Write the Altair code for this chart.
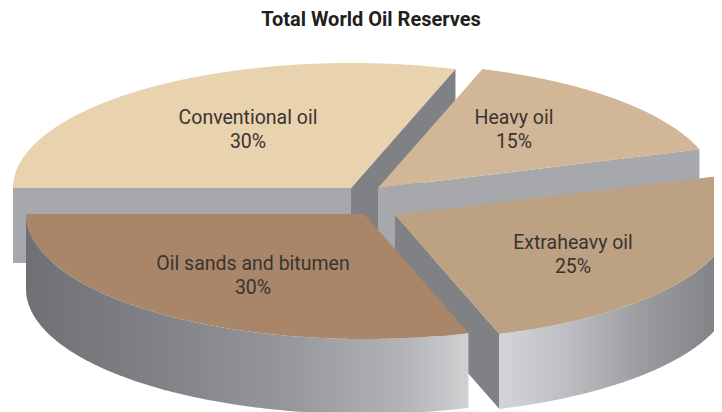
import math
import altair as alt
import pandas as pd

# --- chart values ---
categories = ["Conventional oil", "Heavy oil", "Extraheavy oil", "Oil sands and bitumen"]
shares = [30, 15, 25, 30]
title_text = "Total World Oil Reserves"

# --- styling / geometry (separate from the values) ---
top_colors = ["#e9d2ae", "#d1b797", "#bca283", "#a98669"]
SIDE = "#a6a8ab"
CUT = "#7f8184"
centres = [(351, 188), (378, 188), (395, 215), (364, 214)]
label_pos = [(248, 118), (514, 118), (573, 243), (253, 264)]
RX, RY, DEPTH = 338, 125, 75
START = 180.0

# slice boundaries from the shares, clockwise from the left
bounds = [START]
for s in shares:
    bounds.append(bounds[-1] - s * 3.6)


def pt(i, deg):
    cx, cy = centres[i]
    r = math.radians(deg)
    return cx + RX * math.cos(r), cy - RY * math.sin(r)


def arc(i, a0, a1, n=200):
    return [pt(i, a0 + (a1 - a0) * k / n) for k in range(n + 1)]


def rows_from_polygon(poly):
    xs = sorted({round(p[0], 3) for p in poly})
    rows = []
    m = len(poly)
    for x in xs:
        ys = []
        for k in range(m):
            (x0, y0), (x1, y1) = poly[k], poly[(k + 1) % m]
            lo, hi = min(x0, x1), max(x0, x1)
            if lo - 0.002 <= x <= hi + 0.002:
                if abs(x1 - x0) < 1e-6:
                    ys += [y0, y1]
                else:
                    t = min(1, max(0, (x - x0) / (x1 - x0)))
                    ys.append(y0 + t * (y1 - y0))
        rows.append({"x": x, "y": min(ys), "y2": max(ys)})
    return rows


def wedge(i):
    return rows_from_polygon([centres[i]] + arc(i, bounds[i], bounds[i + 1]))


def band(i, a0, a1):
    return [{"x": x, "y": y, "y2": y + DEPTH} for x, y in arc(i, a0, a1)]


def drop(p, q):
    return rows_from_polygon([p, q, (q[0], q[1] + DEPTH), (p[0], p[1] + DEPTH)])


X = alt.X("x:Q", axis=None, scale=alt.Scale(domain=[8, 714], nice=False, zero=False))
Y = alt.Y("y:Q", axis=None, scale=alt.Scale(domain=[8, 412], nice=False, zero=False, reverse=True))


def area(rows, color):
    return alt.Chart(pd.DataFrame(rows)).mark_area(color=color, clip=True, opacity=1).encode(
        x=X, y=Y, y2="y2:Q"
    )


def hgrad(stops):
    return alt.Gradient(
        gradient="linear", x1=0, y1=0, x2=1, y2=0,
        stops=[alt.GradientStop(offset=o, color=c) for o, c in stops],
    )


grad_left = hgrad([(0, "#6f7074"), (0.3, "#818286"), (0.6, "#97989c"), (0.85, "#b2b3b7"), (1, "#d0d1d3")])
grad_right = hgrad([(0, "#d4d5d7"), (0.3, "#bcbdc0"), (0.6, "#9c9da1"), (0.85, "#88898d"), (1, "#7c7d81")])

layers = [
    # conventional oil
    area(drop(centres[0], pt(0, bounds[1])), CUT),
    area(drop(pt(0, bounds[0]), centres[0]), SIDE),
    area(wedge(0), top_colors[0]),
    # heavy oil
    area(drop(centres[1], pt(1, bounds[2])), SIDE),
    area(wedge(1), top_colors[1]),
    # extraheavy oil
    area(drop(centres[2], pt(2, bounds[3])), CUT),
    area(band(2, bounds[3], 0), grad_right),
    area(wedge(2), top_colors[2]),
    # oil sands and bitumen
    area(band(3, bounds[3], bounds[4]), grad_left),
    area(wedge(3), top_colors[3]),
]

labels = []
for name, share, (lx, ly) in zip(categories, shares, label_pos):
    labels.append({"x": lx, "y": ly, "t": name})
    labels.append({"x": lx, "y": ly + 24, "t": f"{share}%"})

text = alt.Chart(pd.DataFrame(labels)).mark_text(
    font="Roboto", fontSize=19.5, color="#3a3430", align="center", baseline="middle"
).encode(x=X, y=Y, text="t:N")

title = alt.Chart(pd.DataFrame([{"x": 371, "y": 20, "t": title_text}])).mark_text(
    font="Roboto", fontSize=20, fontWeight="bold", color="#231f20",
    align="center", baseline="middle"
).encode(x=X, y=Y, text="t:N")

chart = alt.layer(*layers, text, title).properties(
    width=706, height=404, padding=0, autosize=alt.AutoSizeParams(type="none"), background="white"
).configure_view(stroke=None)

chart.save("out.html", embed_options={"renderer": "svg", "actions": False})
